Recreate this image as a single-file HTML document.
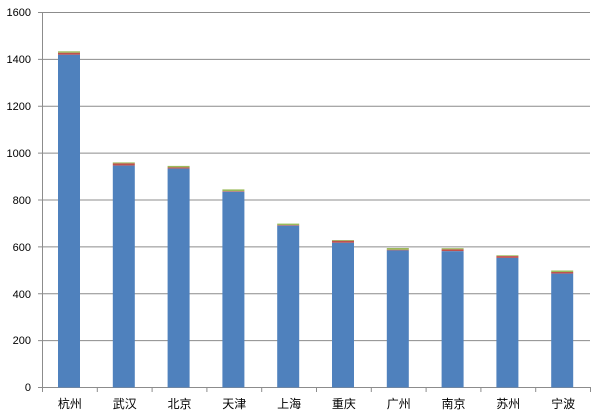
<!DOCTYPE html>
<html><head><meta charset="utf-8"><style>
html,body{margin:0;padding:0;background:#fff;}
svg{display:block;}
text{font-family:"Liberation Sans","Noto Sans CJK SC",sans-serif;fill:#000;}
</style></head><body>
<svg width="600" height="413" viewBox="0 0 600 413" xmlns="http://www.w3.org/2000/svg">
<rect x="0" y="0" width="600" height="413" fill="#fff"/>
<g stroke="#8c8c8c" stroke-width="1">
<line x1="38" y1="12.5" x2="590" y2="12.5"/>
<line x1="38" y1="59.4" x2="590" y2="59.4"/>
<line x1="38" y1="106.3" x2="590" y2="106.3"/>
<line x1="38" y1="153.1" x2="590" y2="153.1"/>
<line x1="38" y1="200" x2="590" y2="200"/>
<line x1="38" y1="246.9" x2="590" y2="246.9"/>
<line x1="38" y1="293.8" x2="590" y2="293.8"/>
<line x1="38" y1="340.6" x2="590" y2="340.6"/>
<line x1="38" y1="387.5" x2="590" y2="387.5"/>
<line x1="42.5" y1="12" x2="42.5" y2="387.5"/>
</g>
<g stroke="#8c8c8c" stroke-width="1">
<line x1="42.5" y1="387" x2="42.5" y2="392"/>
<line x1="97.3" y1="387" x2="97.3" y2="392"/>
<line x1="152.1" y1="387" x2="152.1" y2="392"/>
<line x1="206.9" y1="387" x2="206.9" y2="392"/>
<line x1="261.7" y1="387" x2="261.7" y2="392"/>
<line x1="316.5" y1="387" x2="316.5" y2="392"/>
<line x1="371.3" y1="387" x2="371.3" y2="392"/>
<line x1="426.1" y1="387" x2="426.1" y2="392"/>
<line x1="480.9" y1="387" x2="480.9" y2="392"/>
<line x1="535.7" y1="387" x2="535.7" y2="392"/>
<line x1="590.5" y1="387" x2="590.5" y2="392"/>
</g>
<g font-size="11" text-anchor="end">
<text x="31" y="16">1600</text>
<text x="31" y="63">1400</text>
<text x="31" y="110">1200</text>
<text x="31" y="157">1000</text>
<text x="31" y="204">800</text>
<text x="31" y="251">600</text>
<text x="31" y="298">400</text>
<text x="31" y="344">200</text>
<text x="31" y="391">0</text>
</g>
<g id="bars">
<rect x="58" y="51.3" width="22" height="1.5" fill="#9bbb59"/><rect x="58" y="52.8" width="22" height="2" fill="#c0504d"/><rect x="58" y="54.8" width="22" height="332.7" fill="#4f81bd"/>
<rect x="112.8" y="162.4" width="22" height="1" fill="#9bbb59"/><rect x="112.8" y="163.4" width="22" height="2.2" fill="#c0504d"/><rect x="112.8" y="165.6" width="22" height="221.9" fill="#4f81bd"/>
<rect x="167.6" y="165.9" width="22" height="1.5" fill="#9bbb59"/><rect x="167.6" y="167.4" width="22" height="1.2" fill="#c0504d"/><rect x="167.6" y="168.6" width="22" height="218.9" fill="#4f81bd"/>
<rect x="222.4" y="189.4" width="22" height="1.8" fill="#9bbb59"/><rect x="222.4" y="191.2" width="22" height="0.6" fill="#c0504d"/><rect x="222.4" y="191.8" width="22" height="195.7" fill="#4f81bd"/>
<rect x="277.2" y="223.6" width="22" height="1.5" fill="#9bbb59"/><rect x="277.2" y="225.1" width="22" height="0.6" fill="#c0504d"/><rect x="277.2" y="225.7" width="22" height="161.8" fill="#4f81bd"/>
<rect x="332" y="240" width="22" height="0.8" fill="#9bbb59"/><rect x="332" y="240.8" width="22" height="2" fill="#c0504d"/><rect x="332" y="242.8" width="22" height="144.7" fill="#4f81bd"/>
<rect x="386.8" y="248" width="22" height="1.8" fill="#9bbb59"/><rect x="386.8" y="249.8" width="22" height="0.6" fill="#c0504d"/><rect x="386.8" y="250.4" width="22" height="137.1" fill="#4f81bd"/>
<rect x="441.6" y="248.2" width="22" height="1.2" fill="#9bbb59"/><rect x="441.6" y="249.4" width="22" height="1.8" fill="#c0504d"/><rect x="441.6" y="251.2" width="22" height="136.3" fill="#4f81bd"/>
<rect x="496.4" y="255.3" width="22" height="0.8" fill="#9bbb59"/><rect x="496.4" y="256.1" width="22" height="1.8" fill="#c0504d"/><rect x="496.4" y="257.9" width="22" height="129.6" fill="#4f81bd"/>
<rect x="551.2" y="270.5" width="22" height="1.5" fill="#9bbb59"/><rect x="551.2" y="272" width="22" height="1.6" fill="#c0504d"/><rect x="551.2" y="273.6" width="22" height="113.9" fill="#4f81bd"/>
</g>
<g font-size="12" text-anchor="middle">
<text x="69.9" y="408">杭州</text>
<text x="124.7" y="408">武汉</text>
<text x="179.5" y="408">北京</text>
<text x="234.3" y="408">天津</text>
<text x="289.1" y="408">上海</text>
<text x="343.9" y="408">重庆</text>
<text x="398.7" y="408">广州</text>
<text x="453.5" y="408">南京</text>
<text x="508.3" y="408">苏州</text>
<text x="563.1" y="408">宁波</text>
</g>
</svg>
</body></html>
